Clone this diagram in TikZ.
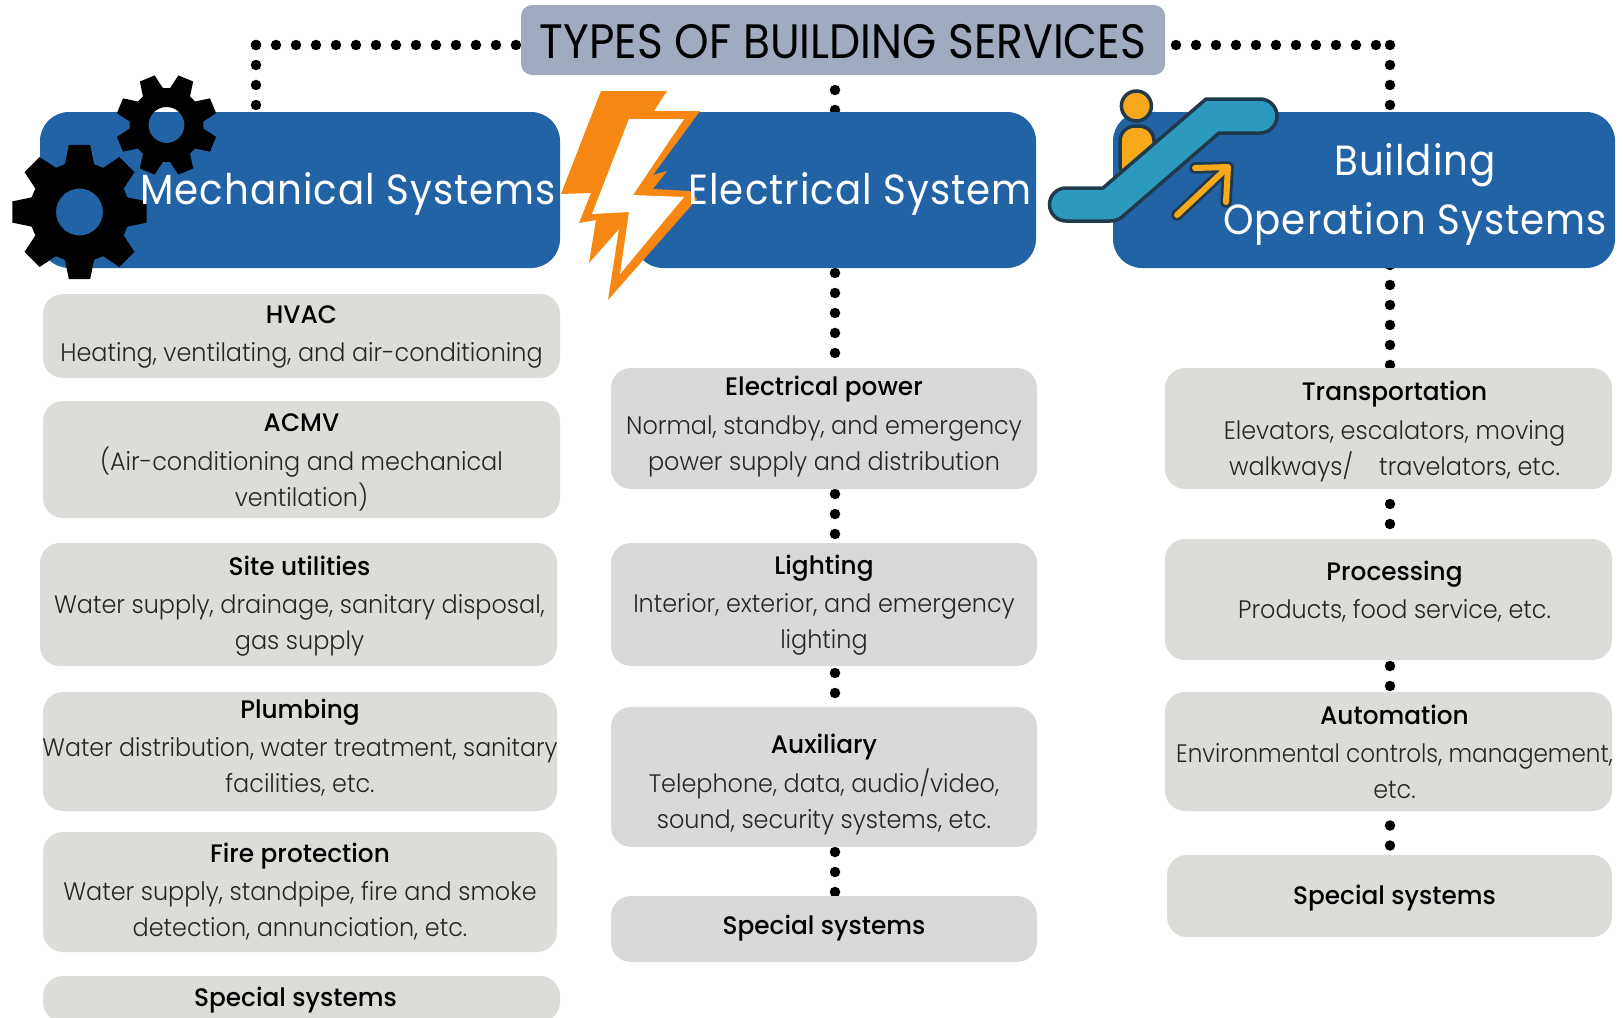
\documentclass[tikz,border=0pt]{standalone}
\usepackage{fontspec}
\setmainfont{Poppins}[UprightFont=* Light,FakeStretch=0.945]
\newfontfamily\hdfont{Poppins}[UprightFont=* Medium,FakeStretch=0.98]
\newfontfamily\headfont{Poppins}[FakeStretch=0.92,LetterSpace=2.4]
\newfontfamily\titlefont{Poppins}[FakeStretch=0.91]
\pgfdeclarelayer{bg}
\pgfsetlayers{bg,main}
\definecolor{hblue}{HTML}{2263A5}
\definecolor{titlegrey}{HTML}{A0ABC0}
\definecolor{itemgrey}{HTML}{DDDCD9}
\definecolor{itemgreyb}{HTML}{D9D9D9}
\definecolor{boltor}{HTML}{F68712}
\definecolor{escblue}{HTML}{2C9ABF}
\definecolor{escline}{HTML}{1F3A4D}
\definecolor{escor}{HTML}{F5A91B}
\tikzset{
  x=0.02cm,y=-0.02cm,
  dotline/.style={line width=0.21cm,line cap=round,dash pattern=on 0pt off 0.4cm,dash phase=#1},
  dotline/.default=0mm,
  boxbase/.style={inner sep=0pt,outer sep=0pt,align=center,rounded corners=#1},
  itembox/.style={boxbase=0.4cm,fill=itemgrey},
  itemboxb/.style={itembox,fill=itemgreyb},
  itemtext/.style={inner sep=0pt,align=center,font=\fontsize{14.4}{20.5}\selectfont,text=black!85},
  headbox/.style={boxbase=0.58cm,fill=hblue},
  headtext/.style={inner sep=0pt,text=white,align=center,font=\headfont\fontsize{24}{32}\selectfont},
}
\newcommand{\hd}[1]{{\hdfont\color{black} #1}}
% name, x1, y1, x2, y2, style, text
\newcommand{\bx}[7]{\node[#6,minimum width={(#4-#2)*0.02cm},minimum height={(#5-#3)*0.02cm}] (#1) at ({(#2+#4)/2},{(#3+#5)/2}) {#7};}
% name, x1, y1, x2, y2, style, dx, dy, text
\newcommand{\bxt}[9]{\bx{#1}{#2}{#3}{#4}{#5}{#6}{}\node[itemtext] (#1t) at ({(#2+#4)/2+#7},{(#3+#5)/2+#8}) {#9};}
% cx, cy, outer radius, inner radius, hole, start angle
\newcommand{\gearshape}[6]{%
  \fill[black,even odd rule] ({#1+#4*cos(#6-17)},{#2-#4*sin(#6-17)})
  \foreach \a in {0,45,...,315}{
    -- ({#1+#3*cos(#6+\a-9)},{#2-#3*sin(#6+\a-9)})
    -- ({#1+#3*cos(#6+\a+9)},{#2-#3*sin(#6+\a+9)})
    -- ({#1+#4*cos(#6+\a+17)},{#2-#4*sin(#6+\a+17)})
    -- ({#1+#4*cos(#6+\a+28)},{#2-#4*sin(#6+\a+28)})
  } -- cycle
  (#1,#2) circle[radius=#5];}
\begin{document}
\begin{tikzpicture}
\useasboundingbox (0,0) rectangle (1624,1018);
\clip (0,0) rectangle (1624,1018);
\coordinate (cl) at (256,45);
\coordinate (cc) at (835,45);
\coordinate (cr) at (1390,45);
\bx{title}{521}{5}{1165}{75}{boxbase=0.22cm,fill=titlegrey,font=\titlefont\fontsize{27.5}{30}\selectfont,text=black}{\raisebox{-10.4pt}[0pt][0pt]{TYPES OF BUILDING SERVICES}}
\bx{mech}{40}{112}{560}{268}{headbox}{}
\bx{elec}{634}{112}{1036}{268}{headbox}{}
\bx{bldg}{1113}{112}{1615}{268}{headbox}{}
\bxt{hvac}{43}{294}{560}{378}{itembox}{0}{1}{\hd{HVAC}\\[1.2pt]Heating, ventilating, and air-conditioning}
\bxt{acmv}{43}{401}{560}{518}{itembox}{0}{3}{\hd{ACMV}\\[1.2pt](Air-conditioning and mechanical\\ventilation)}
\bxt{site}{40}{543}{557}{666}{itembox}{1}{2}{\hd{Site utilities}\\[1.2pt]Water supply, drainage, sanitary disposal,\\gas supply}
\bxt{plumb}{43}{692}{557}{811}{itembox}{0}{-3.5}{\hd{Plumbing}\\[1.2pt]\scalebox{0.99}[1]{Water distribution, water treatment, sanitary}\\facilities, etc.}
\bxt{fire}{43}{832}{557}{952}{itembox}{0}{0}{\hd{Fire protection}\\[1.2pt]Water supply, standpipe, fire and smoke\\detection, annunciation, etc.}
\bxt{specm}{43}{976}{560}{1022}{itembox}{-6}{1}{\hd{Special systems}}
\bxt{epow}{611}{368}{1037}{489}{itemboxb}{0}{-2}{\hd{Electrical power}\\[1.2pt]Normal, standby, and emergency\\power supply and distribution}
\bxt{light}{611}{543}{1037}{666}{itemboxb}{0}{1}{\hd{Lighting}\\[1.2pt]Interior, exterior, and emergency\\lighting}
\bxt{aux}{611}{707}{1037}{847}{itemboxb}{0}{7.5}{\hd{Auxiliary}\\[1.2pt]Telephone, data, audio/video,\\sound, security systems, etc.}
\bxt{spece}{611}{896}{1037}{962}{itemboxb}{0}{-1}{\hd{Special systems}}
\bxt{trans}{1165}{368}{1612}{489}{itembox}{6}{3}{\hd{Transportation}\\[1.2pt]Elevators, escalators, moving\\walkways/\ \ \ \ travelators, etc.}
\bxt{proc}{1165}{539}{1612}{660}{itembox}{6}{-7.5}{\hd{Processing}\\[1.2pt]Products, food service, etc.}
\bxt{autom}{1165}{692}{1612}{811}{itembox}{6}{0}{\hd{Automation}\\[1.2pt]\scalebox{0.966}[1]{Environmental controls, management,}\\etc.}
\bxt{specb}{1167}{855}{1612}{937}{itembox}{5}{2}{\hd{Special systems}}
% connectors, behind the boxes
\begin{pgfonlayer}{bg}
\fill[white] (0,0) rectangle (1624,1018);
\draw[dotline] (cl) -- (title.west |- cl);
\draw[dotline] (cl) -- (mech.north -| cl);
\draw[dotline=1.8mm] (title.east |- cr) -- (cr);
\draw[dotline] (cr) -- (bldg.north -| cr);
\draw[dotline=1mm] (title.south -| cc) -- (elec.north -| cc);
\draw[dotline=3mm] (elec.south -| cc) -- (epow.north -| cc);
\draw[dotline=3mm] (epow.south -| cc) -- (light.north -| cc);
\draw[dotline=2.6mm] (light.south -| cc) -- (aux.north -| cc);
\draw[dotline=3mm] (aux.south -| cc) -- (spece.north -| cc);
\draw[dotline] ([yshift=0.06cm]bldg.south -| cr) -- (trans.north -| cr);
\draw[dotline=1mm] (trans.south -| cr) -- (proc.north -| cr);
\draw[dotline=2.8mm] (proc.south -| cr) -- (autom.north -| cr);
\draw[dotline=1.1mm] (autom.south -| cr) -- (specb.north -| cr);
\end{pgfonlayer}
% gears
\gearshape{79.5}{212}{68}{50}{23.5}{0}
\gearshape{166.5}{125}{51}{37}{18}{22.5}
% bolt
\fill[boltor] (601,91) -- (667,91) -- (654,111) -- (700,111) -- (653,175) -- (667,171) -- (653,189) -- (690,191) -- (697,199) -- (608,300) -- (619,229) -- (589,263) -- (596,220) -- (579,223) -- (591,193) -- (561,194) -- cycle;
\fill[white] (629,119) -- (684,119) -- (633,195) -- (684,197) -- (620,274) -- (629,212) -- (592,214) -- cycle;
% person
\fill[escor,draw=escline,line width=0.07cm] (1136.4,106) circle[radius=15];
\fill[escor,draw=escline,line width=0.07cm,rounded corners=0.3cm] (1120,180) -- (1120,126) -- (1154,126) -- (1154,180) -- cycle;
% escalator
\fill[escblue,draw=escline,line width=0.07cm,line join=round]
  (1066,188) -- (1103,188) -- (1206,99) -- (1260,99) arc[start angle=-90,end angle=90,radius=17]
  -- (1219,133) -- (1122,217) .. controls (1118,220) and (1114,221) .. (1110,221) -- (1066,221)
  arc[start angle=90,end angle=270,radius=16.5] -- cycle;
% arrow
\draw[escline,line width=0.23cm,line cap=round,line join=round] (1177,215) -- (1228,167) (1195,168) -- (1228,167) -- (1226,202);
\draw[escor,line width=0.12cm,line cap=round,line join=round] (1177,215) -- (1228,167) (1195,168) -- (1228,167) -- (1226,202);
% header text
\node[headtext] (tmech) at (348,193.5) {Mechanical Systems};
\node[headtext] (telec) at (860,193.5) {Electrical System};
\node[headtext] (tb1) at (1415,165.5) {Building};
\node[headtext] (tb2) at (1415,223.5) {Operation Systems};
\end{tikzpicture}
\end{document}
